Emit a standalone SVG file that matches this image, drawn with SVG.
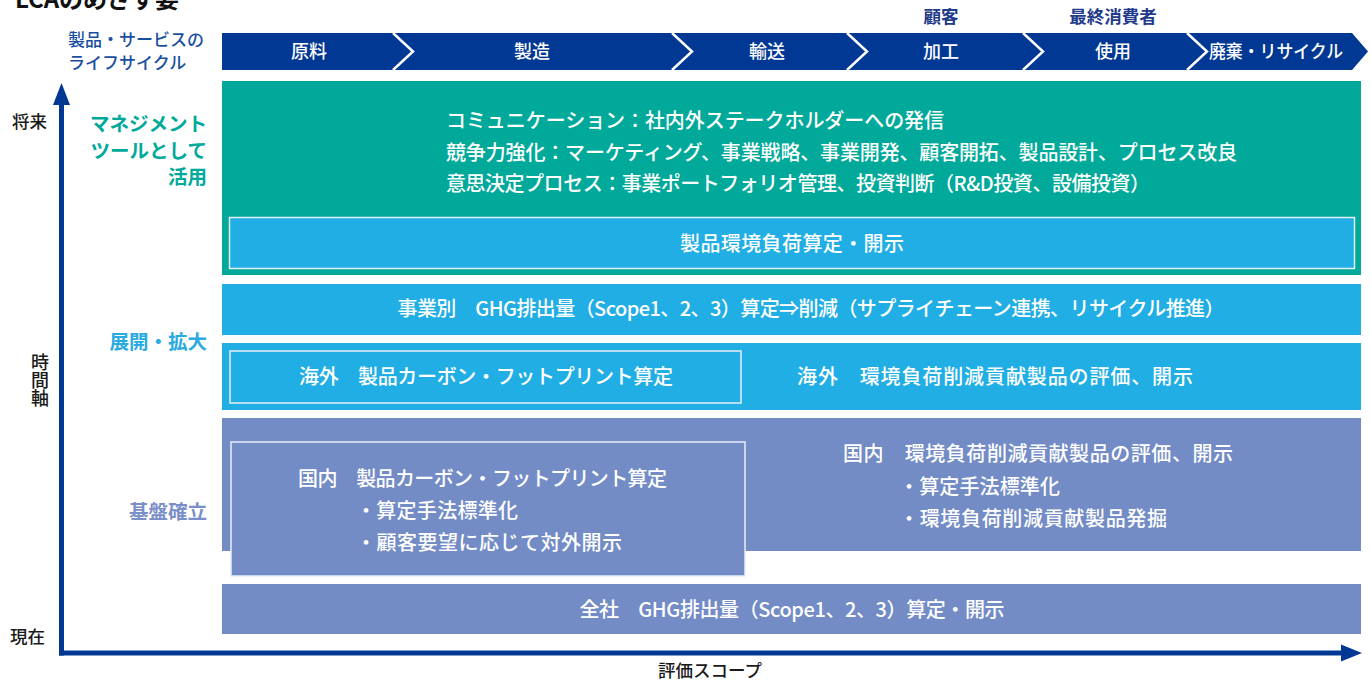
<svg xmlns="http://www.w3.org/2000/svg" width="1371" height="681" viewBox="0 0 1371 681">
<defs>
<style>
text{font-family:"Noto Sans CJK JP","Noto Sans",sans-serif;}
.w{fill:#ffffff;font-size:20px;font-weight:500;}
.chev{fill:#ffffff;font-size:18px;font-weight:500;text-anchor:middle;}
.top{fill:#1f3b8a;font-size:17.5px;font-weight:bold;text-anchor:middle;}
.ax{fill:#1a1a1a;font-size:17.5px;font-weight:500;}
.lbl{font-size:19.5px;font-weight:bold;text-anchor:end;}
.div{fill:none;stroke:#ffffff;stroke-width:2.5;}
.inner{stroke:#e6eef8;stroke-width:1.5;}
</style>
</defs>
<rect width="1371" height="681" fill="#ffffff"/>

<text x="15" y="8" style="font-size:24px;font-weight:bold;fill:#111">LCAのめざす姿</text>

<g id="lifecycle-label">
<text x="68" y="46" style="font-size:17px;font-weight:500;fill:#1a4fa0">製品・サービスの</text>
<text x="68" y="69" style="font-size:17px;font-weight:500;fill:#1a4fa0">ライフサイクル</text>
</g>

<g id="lifecycle-bar">
<polygon points="222,33 1352,33 1368,51.5 1352,70 222,70" fill="#003894"/>
<polyline class="div" points="393,33 413,51.5 393,70"/>
<polyline class="div" points="672,33 692,51.5 672,70"/>
<polyline class="div" points="847,33 867,51.5 847,70"/>
<polyline class="div" points="1023,33 1043,51.5 1023,70"/>
<polyline class="div" points="1187,33 1207,51.5 1187,70"/>
<text class="chev" x="309" y="58">原料</text>
<text class="chev" x="532" y="58">製造</text>
<text class="chev" x="767" y="58">輸送</text>
<text class="chev" x="941" y="58">加工</text>
<text class="chev" x="1113" y="58">使用</text>
<text class="chev" x="1276" y="58" textLength="134" lengthAdjust="spacingAndGlyphs">廃棄・リサイクル</text>
<text class="top" x="941" y="23">顧客</text>
<text class="top" x="1113" y="23">最終消費者</text>
</g>

<g id="axes">
<line x1="61.5" y1="655.5" x2="61.5" y2="100" stroke="#003894" stroke-width="5"/>
<path d="M61.5,83 L70,105 L53,105 z" fill="#003894"/>
<line x1="59" y1="653" x2="1343" y2="653" stroke="#003894" stroke-width="5"/>
<path d="M1362,653 L1341,644.5 L1341,661.5 z" fill="#003894"/>
<text class="ax" x="12" y="128">将来</text>
<text class="ax" x="10" y="643">現在</text>
<text class="ax" x="40" y="353" style="writing-mode:vertical-rl;font-size:18px">時間軸</text>
<text class="ax" x="710" y="677" text-anchor="middle">評価スコープ</text>
</g>

<g id="stage-labels">
<text class="lbl" x="207" y="131" fill="#00a99a">マネジメント</text>
<text class="lbl" x="207" y="158" fill="#00a99a">ツールとして</text>
<text class="lbl" x="207" y="184" fill="#00a99a">活用</text>
<text class="lbl" x="207" y="349" fill="#29abe2">展開・拡大</text>
<text class="lbl" x="207" y="519" fill="#7a8fc8">基盤確立</text>
</g>

<g id="management">
<rect x="222" y="81" width="1139" height="194" fill="#00a99a"/>
<text class="w" x="446" y="128" textLength="498">コミュニケーション：社内外ステークホルダーへの発信</text>
<text class="w" x="446" y="160" textLength="791">競争力強化：マーケティング、事業戦略、事業開発、顧客開拓、製品設計、プロセス改良</text>
<text class="w" x="446" y="191" textLength="704">意思決定プロセス：事業ポートフォリオ管理、投資判断（R&amp;D投資、設備投資）</text>
<rect class="inner" x="229.5" y="217.5" width="1125" height="51" fill="#21aee5"/>
<text class="w" x="792" y="251" text-anchor="middle" textLength="224">製品環境負荷算定・開示</text>
</g>

<g id="business-ghg">
<rect x="222" y="284" width="1139" height="51" fill="#21aee5"/>
<text class="w" x="811" y="316" text-anchor="middle" textLength="827">事業別　GHG排出量（Scope1、2、3）算定⇒削減（サプライチェーン連携、リサイクル推進）</text>
</g>

<g id="overseas">
<rect x="222" y="343" width="1139" height="67" fill="#21aee5"/>
<rect class="inner" x="230" y="351" width="511" height="52" fill="#21aee5"/>
<text class="w" x="486" y="384" text-anchor="middle" textLength="374">海外　製品カーボン・フットプリント算定</text>
<text class="w" x="995" y="384" text-anchor="middle" textLength="396">海外　環境負荷削減貢献製品の評価、開示</text>
</g>

<g id="domestic">
<rect x="222" y="418" width="1139" height="133" fill="#738cc6"/>
<rect class="inner" x="231" y="442" width="514" height="134" fill="#738cc6"/>
<text class="w" x="298" y="486" textLength="369">国内　製品カーボン・フットプリント算定</text>
<text class="w" x="356" y="518" textLength="162">・算定手法標準化</text>
<text class="w" x="356" y="550" textLength="266">・顧客要望に応じて対外開示</text>
<text class="w" x="843" y="461" textLength="390">国内　環境負荷削減貢献製品の評価、開示</text>
<text class="w" x="899" y="494" textLength="161">・算定手法標準化</text>
<text class="w" x="899" y="526" textLength="268">・環境負荷削減貢献製品発掘</text>
</g>

<g id="company-ghg">
<rect x="222" y="584" width="1139" height="50" fill="#738cc6"/>
<text class="w" x="792" y="617" text-anchor="middle" textLength="425">全社　GHG排出量（Scope1、2、3）算定・開示</text>
</g>
</svg>
